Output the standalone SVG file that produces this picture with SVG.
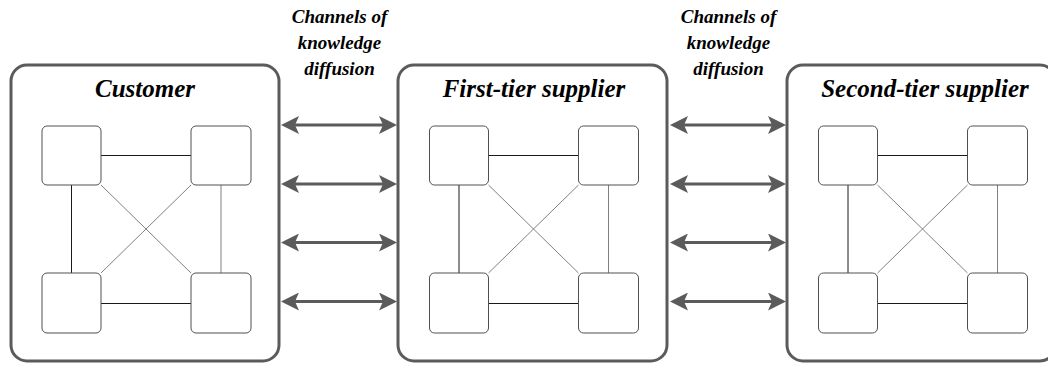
<svg xmlns="http://www.w3.org/2000/svg" width="1048" height="367" viewBox="0 0 1048 367">
  <defs>
    <style>
      .frame { fill: #ffffff; stroke: #5b5b5b; stroke-width: 3; }
      .unit { fill: #ffffff; stroke: #505050; stroke-width: 1; }
      .edge { stroke: #1a1a1a; stroke-width: 1; fill: none; }
      .diag { stroke: #808080; stroke-width: 1; fill: none; }
      .title { font-weight: bold; font-style: italic; font-size: 25px; fill: #000000; text-anchor: middle; }
      .chan { font-weight: bold; font-style: italic; font-size: 19px; fill: #000000; text-anchor: middle; }
      .flow { stroke: #5b5b5b; stroke-width: 3; fill: none; marker-start: url(#head); marker-end: url(#head); }
    </style>
    <marker id="head" viewBox="0 0 18 18" refX="5" refY="9" markerWidth="18" markerHeight="18" markerUnits="userSpaceOnUse" orient="auto-start-reverse">
      <path d="M0,0 L18,9 L0,18 L4,9 Z" fill="#5b5b5b"/>
    </marker>
    <!-- one firm: four units fully interconnected -->
    <g id="cluster">
      <line class="edge" x1="101" y1="155.5" x2="191" y2="155.5"/>
      <line class="edge" x1="101" y1="303.5" x2="191" y2="303.5"/>
      <line class="edge" x1="71.5" y1="185" x2="71.5" y2="273"/>
      <line class="diag" x1="221" y1="185" x2="221" y2="273"/>
      <line class="diag" x1="101" y1="185" x2="191" y2="273"/>
      <line class="diag" x1="191" y1="185" x2="101" y2="273"/>
      <rect class="unit" x="42" y="126" width="59" height="59" rx="5"/>
      <rect class="unit" x="191" y="126" width="60" height="59" rx="5"/>
      <rect class="unit" x="42" y="273" width="59" height="60" rx="5"/>
      <rect class="unit" x="191" y="273" width="60" height="60" rx="5"/>
    </g>
  </defs>

  <g font-family="Liberation Serif, Times New Roman, Times, serif">
    <g id="customer">
      <rect class="frame" x="11" y="65" width="268" height="296" rx="16"/>
      <text class="title" x="145" y="97">Customer</text>
      <use href="#cluster"/>
    </g>

    <g id="first-tier-supplier">
      <rect class="frame" x="398" y="65" width="269" height="296" rx="16"/>
      <text class="title" x="534" y="97">First-tier supplier</text>
      <use href="#cluster" transform="translate(387.5,0)"/>
    </g>

    <g id="second-tier-supplier">
      <rect class="frame" x="787" y="65" width="269" height="296" rx="16"/>
      <text class="title" x="925" y="97">Second-tier supplier</text>
      <use href="#cluster" transform="translate(776.5,0)"/>
    </g>

    <g id="label-channels-1">
      <text class="chan" x="339.5" y="23">Channels of</text>
      <text class="chan" x="339.5" y="49">knowledge</text>
      <text class="chan" x="339.5" y="75">diffusion</text>
    </g>
    <g id="label-channels-2">
      <text class="chan" x="728.5" y="23">Channels of</text>
      <text class="chan" x="728.5" y="49">knowledge</text>
      <text class="chan" x="728.5" y="75">diffusion</text>
    </g>
  </g>

  <g id="connectors">
    <line class="flow" x1="294" y1="125" x2="384" y2="125"/>
    <line class="flow" x1="294" y1="184" x2="384" y2="184"/>
    <line class="flow" x1="294" y1="242.5" x2="384" y2="242.5"/>
    <line class="flow" x1="294" y1="301.5" x2="384" y2="301.5"/>
    <line class="flow" x1="683" y1="125" x2="773" y2="125"/>
    <line class="flow" x1="683" y1="184" x2="773" y2="184"/>
    <line class="flow" x1="683" y1="242.5" x2="773" y2="242.5"/>
    <line class="flow" x1="683" y1="301.5" x2="773" y2="301.5"/>
  </g>
</svg>
